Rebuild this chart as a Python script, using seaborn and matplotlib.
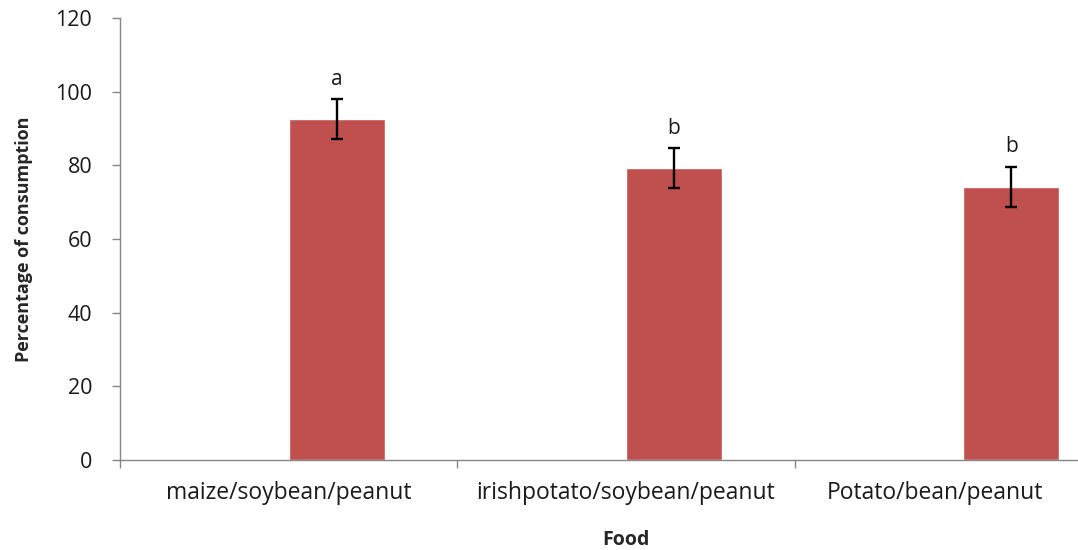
import numpy as np
import pandas as pd
import matplotlib
matplotlib.use("Agg")
import matplotlib.pyplot as plt
import seaborn as sns

# data
foods = ["maize/soybean/peanut", "irishpotato/soybean/peanut", "Potato/bean/peanut"]
consumption = [92.5, 79.2, 74.2]
errors = [5.4, 5.4, 5.4]
letters = ["a", "b", "b"]

sns.set_style("white")
plt.rcParams['font.family'] = ['Open Sans', 'DejaVu Sans']

# Excel-style clustered chart: an empty first series pushes bars right of centre
df = pd.DataFrame({
    'food': foods * 2,
    'series': ['blank'] * 3 + ['value'] * 3,
    'pct': [np.nan] * 3 + consumption,
})

fig = plt.figure(figsize=(10.78, 5.5), dpi=100)
ax = fig.add_axes([120 / 1078, 90 / 550, 1012 / 1078, 442 / 550])

sns.barplot(data=df, x='food', y='pct', hue='series', hue_order=['blank', 'value'],
            palette={'blank': '#C0504D', 'value': '#C0504D'}, width=0.57,
            dodge=True, legend=False, ax=ax, saturation=1)

bar_w = 0.285
xs = np.arange(len(foods)) + bar_w / 2
ax.errorbar(xs, consumption, yerr=errors, fmt='none', ecolor='black',
            elinewidth=1.7, capsize=4.5, capthick=1.7)
for x, v, e, s in zip(xs, consumption, errors, letters):
    ax.text(x, v + e + 4, s, ha='center', va='baseline', fontsize=15, color='#1a1a1a')

ax.set_xlim(-0.5, 2.5)
ax.set_ylim(0, 120)
ax.set_yticks(range(0, 121, 20))
ax.tick_params(axis='y', direction='out', length=6, width=1, color='#868686',
               labelsize=15.5, pad=14, left=True, labelcolor='#1a1a1a')

# ticks at category boundaries, labels at category centres
ax.set_xticks([-0.5, 0.5, 1.5])
ax.set_xticklabels([])
ax.set_xticks([0, 1, 1.917], minor=True)
ax.set_xticklabels(foods, minor=True)
ax.tick_params(axis='x', which='major', direction='out', length=6, width=1,
               color='#868686', bottom=True)
ax.tick_params(axis='x', which='minor', length=0, labelsize=16.5, pad=15,
               labelcolor='#1a1a1a')

for side in ['top', 'right']:
    ax.spines[side].set_visible(False)
for side in ['left', 'bottom']:
    ax.spines[side].set_color('#868686')
    ax.spines[side].set_linewidth(1)

ax.set_xlabel('Food', fontsize=14, fontweight='bold')
ax.set_ylabel('Percentage of consumption', fontsize=13, fontweight='bold')
ax.xaxis.label.set_va('baseline')
ax.xaxis.set_label_coords(0.5, (460 - 545) / 442)
ax.yaxis.set_label_coords(-0.086, 0.5)

fig.savefig('out.png', dpi=100)
